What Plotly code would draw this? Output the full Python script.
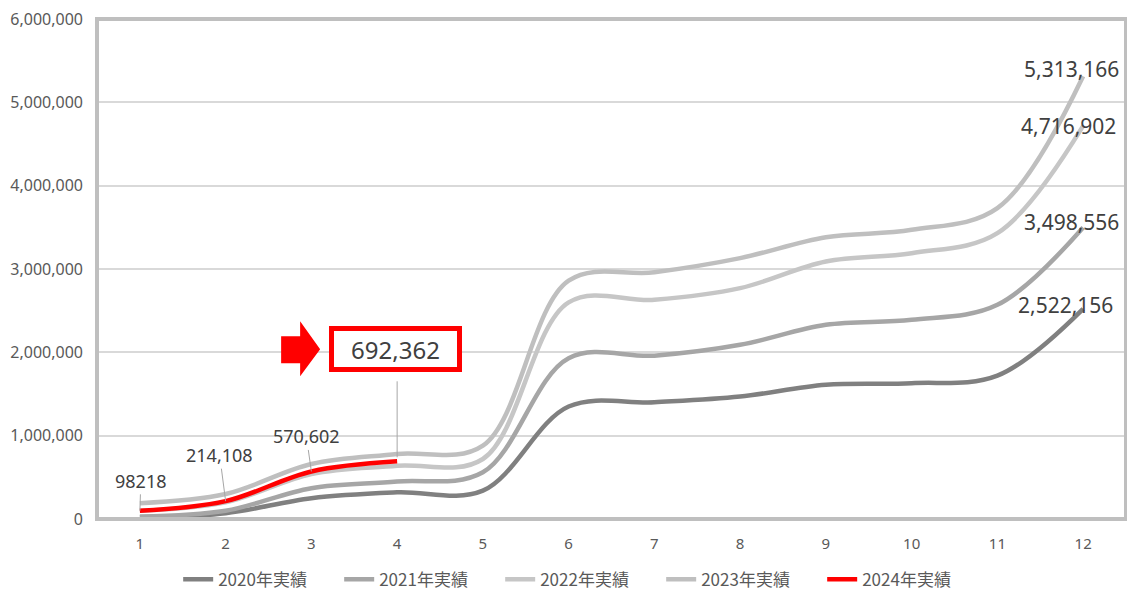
import plotly.graph_objects as go

months = list(range(1, 13))
sales_2020 = [20000, 70000, 250000, 320000, 340000, 1350000, 1400000, 1470000, 1610000, 1630000, 1720000, 2522156]
sales_2021 = [30000, 100000, 370000, 450000, 560000, 1930000, 1960000, 2090000, 2330000, 2390000, 2570000, 3498556]
sales_2022 = [100000, 200000, 540000, 640000, 720000, 2600000, 2630000, 2770000, 3090000, 3190000, 3430000, 4716902]
sales_2023 = [190000, 300000, 660000, 780000, 880000, 2860000, 2960000, 3130000, 3380000, 3470000, 3730000, 5313166]
sales_2024 = [98218, 214108, 570602, 692362]

series_names = ["2020年実績", "2021年実績", "2022年実績", "2023年実績", "2024年実績"]
red_labels = ["98218", "214,108", "570,602", "692,362"]

colors = ["#808080", "#a6a6a6", "#c6c6c6", "#bfbfbf", "#ff0000"]
num_font = "Noto Sans"

fig = go.Figure()
for name, vals, col in zip(series_names, [sales_2020, sales_2021, sales_2022, sales_2023, sales_2024], colors):
    fig.add_trace(go.Scatter(
        x=months[:len(vals)],
        y=vals,
        name=name,
        mode="lines",
        line=dict(color=col, width=4.5, shape="spline", smoothing=1.0),
        hoverinfo="skip"
    ))

annotations = []
# leader-line labels on the 2024 line (first three)
offsets = [(1, -30), (-6, -46), (-5, -35)]
for i in range(3):
    annotations.append(dict(
        x=months[i], y=sales_2024[i], text=red_labels[i],
        showarrow=True, arrowhead=0, arrowwidth=1, arrowcolor="#a6a6a6",
        ax=offsets[i][0], ay=offsets[i][1],
        font=dict(family=num_font, size=18, color="#404040")
    ))

# boxed latest value
annotations.append(dict(
    x=months[3], y=sales_2024[3], text=red_labels[3],
    showarrow=False, xshift=-2, yshift=112,
    width=123, height=36, borderpad=0,
    bordercolor="#ff0000", borderwidth=5, bgcolor="white",
    font=dict(family=num_font, size=24, color="#404040")
))

# year-end labels
end_shifts = [(-18, 4), (-12, 5), (-15, 0), (-12, 7)]
for vals, (dx, dy) in zip([sales_2020, sales_2021, sales_2022, sales_2023], end_shifts):
    annotations.append(dict(
        x=months[-1], y=vals[-1], text=f"{vals[-1]:,}",
        showarrow=False, xshift=dx, yshift=dy,
        font=dict(family=num_font, size=21, color="#404040")
    ))

shapes = [
    # plot frame
    dict(type="rect", xref="paper", yref="paper", x0=0, x1=1, y0=0, y1=1,
         line=dict(color="#bfbfbf", width=4), layer="above"),
    # leader line from boxed value to its point
    dict(type="line", xref="x", yref="y", ysizemode="pixel", yanchor=sales_2024[3],
         x0=months[3], x1=months[3], y0=4, y1=80,
         line=dict(color="#a6a6a6", width=1)),
    # red block arrow pointing at the box
    dict(type="path", xref="x", yref="y", xsizemode="pixel", ysizemode="pixel",
         xanchor=months[3], yanchor=sales_2024[3],
         path="M-116,98 L-97,98 L-97,85 L-77,112 L-97,140 L-97,125 L-116,125 Z",
         fillcolor="#ff0000", line=dict(width=0)),
]

fig.update_layout(
    width=1127, height=587,
    margin=dict(l=89, r=9, t=11, b=76),
    plot_bgcolor="white", paper_bgcolor="white",
    font=dict(family=num_font, color="#595959"),
    xaxis=dict(range=[0.5, 12.5], tickvals=months, showgrid=False, zeroline=False,
               showline=False, ticks="", ticklabelstandoff=14, automargin=False,
               tickfont=dict(size=15, color="#595959")),
    yaxis=dict(range=[0, 6000000], dtick=1000000, tickformat=",", showgrid=True,
               gridcolor="#d9d9d9", gridwidth=1.5, zeroline=False, showline=False,
               ticks="", ticklabelstandoff=13, automargin=False,
               ticklabeloverflow="allow",
               tickfont=dict(size=16, color="#595959")),
    legend=dict(orientation="h", xref="container", yref="container",
                x=0.151, xanchor="left", y=0.026, yanchor="middle",
                entrywidth=116, traceorder="normal",
                font=dict(family="Noto Sans CJK JP", size=17, color="#595959")),
    annotations=annotations,
    shapes=shapes,
    showlegend=True,
)

fig.write_html("out.html")
